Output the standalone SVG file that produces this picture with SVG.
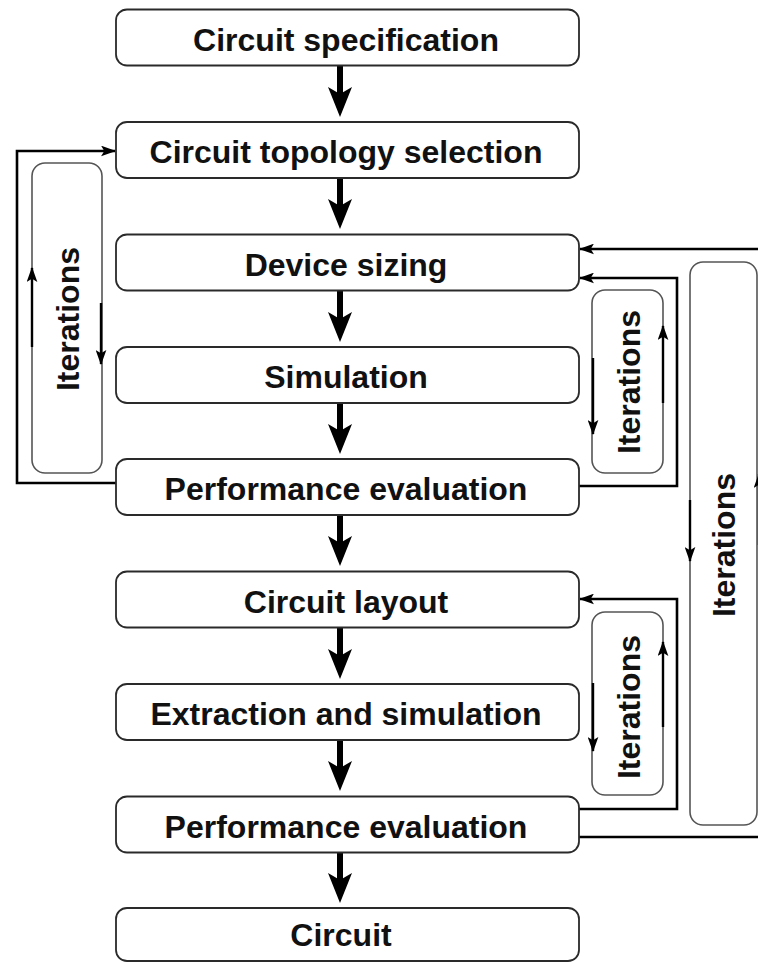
<svg xmlns="http://www.w3.org/2000/svg" width="758" height="962" viewBox="0 0 758 962">
<style>
.box{fill:#fff;stroke:#2a2a2a;stroke-width:1.8}
.it{fill:none;stroke:#555;stroke-width:1.6}
.lbl{font-family:"Liberation Sans",Arial,sans-serif;font-weight:bold;font-size:32px;fill:#111;text-anchor:middle}
.fb{fill:none;stroke:#000;stroke-width:2.6}
.sa{fill:none;stroke:#000;stroke-width:2.4}
</style>
<defs>
<marker id="ah" markerUnits="userSpaceOnUse" viewBox="0 0 14 10" refX="13" refY="5" markerWidth="15" markerHeight="11" orient="auto">
<path d="M0,0 L14,5 L0,10 L3,5 Z" fill="#000"/>
</marker>
<g id="mainArrow">
<rect x="-3" y="-52" width="6" height="30" fill="#000"/>
<path d="M-12,-30 L0,-23 L12,-30 L0,0 Z" fill="#000"/>
</g>
</defs>

<g id="connectors">
<use href="#mainArrow" x="340" y="117"/>
<use href="#mainArrow" x="340" y="229"/>
<use href="#mainArrow" x="340" y="342"/>
<use href="#mainArrow" x="340" y="454"/>
<use href="#mainArrow" x="340" y="566"/>
<use href="#mainArrow" x="340" y="679"/>
<use href="#mainArrow" x="340" y="791"/>
<use href="#mainArrow" x="340" y="903"/>
<path class="fb" d="M116,483 H17 V151 H115" marker-end="url(#ah)"/>
<path class="fb" d="M579,486 H677 V278 H580" marker-end="url(#ah)"/>
<path class="fb" d="M579,809 H677 V599 H580" marker-end="url(#ah)"/>
<path class="fb" d="M579,837 H760"/>
<path class="fb" d="M760,249 H580" marker-end="url(#ah)"/>
</g>

<g id="iter-left">
<rect class="it" x="32" y="163" width="70" height="310" rx="13"/>
<path class="sa" d="M32,347 V268" marker-end="url(#ah)"/>
<path class="sa" d="M101,303 V364" marker-end="url(#ah)"/>
<text class="lbl" transform="translate(79,319) rotate(-90)">Iterations</text>
</g>
<g id="iter-right1">
<rect class="it" x="592" y="290" width="71" height="183" rx="13"/>
<path class="sa" d="M593,358 V434" marker-end="url(#ah)"/>
<path class="sa" d="M663,403 V326" marker-end="url(#ah)"/>
<text class="lbl" transform="translate(640,382) rotate(-90)">Iterations</text>
</g>
<g id="iter-right2">
<rect class="it" x="592" y="612" width="71" height="183" rx="13"/>
<path class="sa" d="M593,683 V751" marker-end="url(#ah)"/>
<path class="sa" d="M663,727 V642" marker-end="url(#ah)"/>
<text class="lbl" transform="translate(640,707) rotate(-90)">Iterations</text>
</g>
<g id="iter-big">
<rect class="it" x="690" y="262" width="67" height="563" rx="13"/>
<path class="sa" d="M690,500 V561" marker-end="url(#ah)"/>
<path class="sa" d="M759,545 V474" marker-end="url(#ah)"/>
<text class="lbl" transform="translate(735,545) rotate(-90)">Iterations</text>
</g>

<g id="n1"><rect class="box" x="116" y="9.5" width="463" height="56" rx="11"/><text class="lbl" x="346" y="51">Circuit specification</text></g>
<g id="n2"><rect class="box" x="116" y="122" width="463" height="56" rx="11"/><text class="lbl" x="346" y="163">Circuit topology selection</text></g>
<g id="n3"><rect class="box" x="116" y="234.5" width="463" height="56" rx="11"/><text class="lbl" x="346" y="276">Device sizing</text></g>
<g id="n4"><rect class="box" x="116" y="347" width="463" height="56" rx="11"/><text class="lbl" x="346" y="388">Simulation</text></g>
<g id="n5"><rect class="box" x="116" y="459" width="463" height="56" rx="11"/><text class="lbl" x="346" y="500">Performance evaluation</text></g>
<g id="n6"><rect class="box" x="116" y="571.5" width="463" height="56" rx="11"/><text class="lbl" x="346" y="613">Circuit layout</text></g>
<g id="n7"><rect class="box" x="116" y="684" width="463" height="56" rx="11"/><text class="lbl" x="346" y="725">Extraction and simulation</text></g>
<g id="n8"><rect class="box" x="116" y="796.5" width="463" height="56" rx="11"/><text class="lbl" x="346" y="838">Performance evaluation</text></g>
<g id="n9"><rect class="box" x="116" y="908" width="463" height="53" rx="11"/><text class="lbl" x="341" y="946">Circuit</text></g>
</svg>
